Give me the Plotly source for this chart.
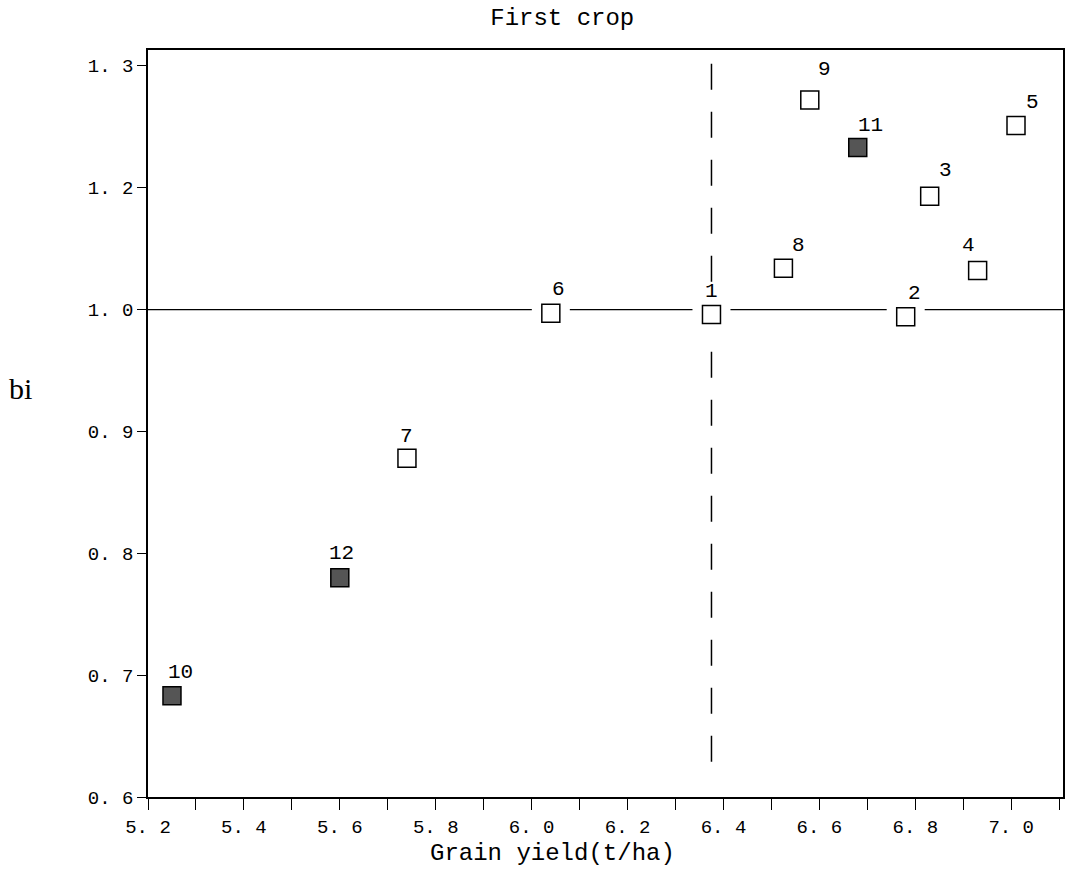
import plotly.graph_objects as go

# ---------------- data ----------------
genotypes = ["1", "2", "3", "4", "5", "6", "7", "8", "9", "10", "11", "12"]
grain_yield = [6.375, 6.78, 6.83, 6.93, 7.01, 6.04, 5.74, 6.525, 6.58, 5.25, 6.68, 5.60]
bi_values = [0.996, 0.994, 1.093, 1.032, 1.151, 0.997, 0.878, 1.034, 1.172, 0.683, 1.133, 0.780]
shaded = ["10", "11", "12"]

mean_yield = 6.375   # dashed vertical reference
bi_reference = 1.0   # solid horizontal reference

x_tick_vals = [5.2, 5.4, 5.6, 5.8, 6.0, 6.2, 6.4, 6.6, 6.8, 7.0]
x_tick_text = ["5. 2", "5. 4", "5. 6", "5. 8", "6. 0", "6. 2", "6. 4", "6. 6", "6. 8", "7. 0"]
y_tick_vals = [0.6, 0.7, 0.8, 0.9, 1.0, 1.1, 1.2]
y_tick_text = ["0. 6", "0. 7", "0. 8", "0. 9", "1. 0", "1. 2", "1. 3"]

# ---------------- styling ----------------
MONO = "Liberation Mono, Courier New, monospace"
SERIF = "Liberation Serif, Times New Roman, serif"
label_shift = {"1": (0, 23), "2": (9, 23), "3": (16, 26), "4": (-9, 25), "5": (16, 23),
               "6": (8, 24), "7": (0, 22), "8": (15, 23), "9": (15, 30), "10": (9, 23),
               "11": (13, 22), "12": (2, 24)}
X_RANGE = [5.2, 7.108]
Y_RANGE = [0.6, 1.213]

fig = go.Figure()

# white pads to break the reference line around the squares sitting on it
on_line = [i for i, v in enumerate(bi_values) if abs(v - bi_reference) < 0.01]
fig.add_trace(go.Scatter(
    x=[grain_yield[i] for i in on_line], y=[bi_values[i] for i in on_line],
    mode="markers", hoverinfo="skip", showlegend=False,
    marker=dict(symbol="square", size=38, color="white", line=dict(width=0)),
))

open_idx = [i for i, g in enumerate(genotypes) if g not in shaded]
fill_idx = [i for i, g in enumerate(genotypes) if g in shaded]

fig.add_trace(go.Scatter(
    x=[grain_yield[i] for i in open_idx], y=[bi_values[i] for i in open_idx],
    text=[genotypes[i] for i in open_idx], mode="markers", showlegend=False,
    marker=dict(symbol="square", size=18, color="white", line=dict(color="black", width=1.5)),
))
fig.add_trace(go.Scatter(
    x=[grain_yield[i] for i in fill_idx], y=[bi_values[i] for i in fill_idx],
    text=[genotypes[i] for i in fill_idx], mode="markers", showlegend=False,
    marker=dict(symbol="square", size=18, color="#555555", line=dict(color="black", width=1.5)),
))

for g, xv, yv in zip(genotypes, grain_yield, bi_values):
    dx, dy = label_shift[g]
    fig.add_annotation(x=xv, y=yv, text=g, showarrow=False, xshift=dx, yshift=dy,
                       font=dict(family=MONO, size=21, color="black"),
                       xanchor="center", yanchor="middle")

# reference lines
fig.add_shape(type="line", xref="paper", yref="y", x0=0, x1=1, y0=bi_reference, y1=bi_reference,
              line=dict(color="black", width=1.3), layer="below")
fig.add_shape(type="line", xref="x", yref="y", x0=mean_yield, x1=mean_yield,
              y0=0.629, y1=Y_RANGE[1],
              line=dict(color="black", width=1.5, dash="26px,22px"), layer="below")

# titles
fig.add_annotation(text="Grain yield(t/ha)", xref="paper", yref="paper", x=0.4417, y=-0.075,
                   showarrow=False, xanchor="center", yanchor="middle",
                   font=dict(family=MONO, size=24, color="black"))
fig.add_annotation(text="bi", xref="paper", yref="paper", x=-0.1396, y=0.5475,
                   showarrow=False, xanchor="center", yanchor="middle",
                   font=dict(family=SERIF, size=30, color="black"))

fig.update_layout(
    width=1071, height=882,
    margin=dict(l=148, r=6, t=50, b=85),
    paper_bgcolor="white", plot_bgcolor="white",
    title=dict(text="First crop", x=0.525, xref="container", xanchor="center",
               y=1 - 17 / 882, yref="container", yanchor="middle",
               font=dict(family=MONO, size=24, color="black")),
    showlegend=False,
)
fig.update_xaxes(range=X_RANGE, tickvals=x_tick_vals, ticktext=x_tick_text,
                 showgrid=False, zeroline=False, showline=True, linecolor="black", linewidth=1.5,
                 mirror=True, ticks="outside", ticklen=11, tickwidth=1.3, tickcolor="black",
                 minor=dict(tick0=5.2, dtick=0.1, ticks="outside", ticklen=11, tickwidth=1.3,
                            tickcolor="black", showgrid=False),
                 tickfont=dict(family=MONO, size=19, color="black"))
fig.update_yaxes(range=Y_RANGE, tickvals=y_tick_vals, ticktext=y_tick_text,
                 showgrid=False, zeroline=False, showline=True, linecolor="black", linewidth=1.5,
                 mirror=True, ticks="outside", ticklen=9, tickwidth=1.3, tickcolor="black",
                 tickfont=dict(family=MONO, size=19, color="black"))

fig.write_html("out.html", config={"displayModeBar": False},
               post_script="document.body.style.margin='0';")
